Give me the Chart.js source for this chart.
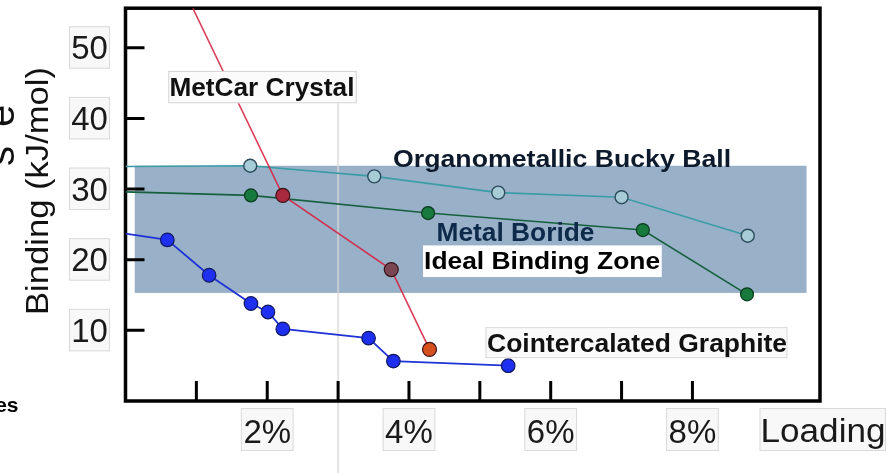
<!DOCTYPE html>
<html lang="en">
<head>
    <meta charset="UTF-8">
    <title>Binding vs Loading</title>
    <script src="https://cdn.jsdelivr.net/npm/chart.js"></script>
    <style>
        html, body { margin: 0; padding: 0; background: #fff; }
        #chart { display: block; }
    </style>
</head>
<body>
    <canvas id="chart" width="891" height="473"></canvas>
    <script>
        // values (x = loading %, y = kJ/mol)
        const graphiteX = [0, 0.59, 1.18, 1.77, 2.01, 2.22, 3.43, 3.78, 5.40];
        const graphiteY = [23.7, 22.8, 17.8, 13.8, 12.6, 10.2, 8.9, 5.65, 5.0];
        const metcarX = [0.95, 2.22, 3.75, 4.29];
        const metcarY = [55.6, 29.1, 18.6, 7.3];
        const buckyX = [0, 1.76, 3.51, 5.26, 7.0, 8.78];
        const buckyY = [33.2, 33.3, 31.8, 29.5, 28.85, 23.4];
        const borideX = [0, 1.77, 4.27, 7.30, 8.77];
        const borideY = [29.6, 29.1, 26.6, 24.2, 15.1];

        const zoneX = [0.13, 9.61];
        const zoneY = [15.3, 33.3];
        const markerX = 3;

        const yTicks = [10, 20, 30, 40, 50];
        const xTicks = [1, 2, 3, 4, 5, 6, 7, 8];
        const xTickLabels = { 2: '2%', 4: '4%', 6: '6%', 8: '8%' };
        const xAxisLabel = 'Loading';
        const yAxisTitle = 'Binding (kJ/mol)';

        const toPoints = (xs, ys) => xs.map((x, i) => ({ x, y: ys[i] }));

        // stretch text along its direction to a given width
        function fitText(ctx, str, x, y, w, font, color) {
            ctx.save();
            ctx.font = font;
            ctx.fillStyle = color;
            ctx.textAlign = 'left';
            ctx.textBaseline = 'alphabetic';
            const m = ctx.measureText(str).width;
            ctx.translate(x, y);
            ctx.scale(w / m, 1);
            ctx.fillText(str, 0, 0);
            ctx.restore();
        }

        function box(ctx, x0, y0, x1, y1, fill, stroke) {
            ctx.save();
            ctx.fillStyle = fill;
            ctx.fillRect(x0, y0, x1 - x0, y1 - y0);
            if (stroke) {
                ctx.strokeStyle = stroke;
                ctx.lineWidth = 1;
                ctx.strokeRect(x0 + 0.5, y0 + 0.5, x1 - x0 - 1, y1 - y0 - 1);
            }
            ctx.restore();
        }

        const labels = [
            { text: 'MetCar Crystal', x: 0.62, y: 43.18, w: 185, font: 'bold 25px "Liberation Sans", Arial', color: '#111',
              pad: [1.2, 2.4, 25, 7.3], fill: '#fbfbfb', stroke: '#d4d4d4' },
            { text: 'Organometallic Bucky Ball', x: 3.776, y: 33.07, w: 338, font: 'bold 24px "Liberation Sans", Arial', color: '#0c1a2c' },
            { text: 'Metal Boride', x: 4.388, y: 22.58, w: 158, font: 'bold 25px "Liberation Sans", Arial', color: '#0e2a4a' },
            { text: 'Ideal Binding Zone', x: 4.213, y: 18.73, w: 236, font: 'bold 24.5px "Liberation Sans", Arial', color: '#000',
              pad: [1, 1.7, 23.3, 8.4], fill: '#ffffff' },
            { text: 'Cointercalated Graphite', x: 5.102, y: 6.96, w: 300, font: 'bold 25.5px "Liberation Sans", Arial', color: '#111',
              pad: [1.6, 0.4, 24.7, 6.3], fill: '#fafafa', stroke: '#d8d8d8' }
        ];

        const decor = {
            id: 'decor',
            beforeDatasetsDraw(chart) {
                const ctx = chart.ctx;
                const xs = chart.scales.x, ys = chart.scales.y;
                const a = chart.chartArea;

                // ideal binding zone
                ctx.save();
                ctx.fillStyle = '#98b0c8';
                const zx0 = xs.getPixelForValue(zoneX[0]), zx1 = xs.getPixelForValue(zoneX[1]);
                const zy0 = ys.getPixelForValue(zoneY[1]), zy1 = ys.getPixelForValue(zoneY[0]);
                ctx.fillRect(zx0, zy0, zx1 - zx0, zy1 - zy0);
                ctx.restore();

                // vertical marker line (under the frame)
                ctx.save();
                ctx.strokeStyle = 'rgba(215,215,215,0.7)';
                ctx.lineWidth = 2;
                const mx = xs.getPixelForValue(markerX);
                ctx.beginPath();
                ctx.moveTo(mx, 102.5);
                ctx.lineTo(mx, chart.height);
                ctx.stroke();
                ctx.restore();

                // frame
                ctx.save();
                ctx.strokeStyle = '#000';
                ctx.lineWidth = 3.5;
                ctx.strokeRect(a.left, a.top, a.right - a.left, a.bottom - a.top);

                // inward tick marks
                ctx.lineWidth = 3;
                ctx.beginPath();
                yTicks.forEach(v => {
                    const p = ys.getPixelForValue(v);
                    ctx.moveTo(a.left, p);
                    ctx.lineTo(a.left + 19, p);
                });
                xTicks.forEach(v => {
                    const p = xs.getPixelForValue(v);
                    ctx.moveTo(p, a.bottom);
                    ctx.lineTo(p, a.bottom - 20);
                });
                ctx.stroke();
                ctx.restore();

                // tick labels with faint boxes
                const tickFont = '33px "Liberation Sans", Arial';
                ctx.save();
                ctx.font = tickFont;
                yTicks.forEach(v => {
                    const p = ys.getPixelForValue(v);
                    box(ctx, 69, p - 21.5, 110, p + 21, '#f8f8f8', '#dadada');
                    ctx.fillStyle = '#1a1a1a';
                    ctx.textAlign = 'center';
                    ctx.textBaseline = 'alphabetic';
                    ctx.fillText(String(v), 89.5, p + 11.7);
                });
                xTicks.forEach(v => {
                    if (!xTickLabels[v]) return;
                    const p = xs.getPixelForValue(v);
                    const w = ctx.measureText(xTickLabels[v]).width;
                    box(ctx, p - w / 2 - 2.5, 408, p + w / 2 + 2.5, 451, '#f8f8f8', '#dadada');
                    ctx.fillStyle = '#1a1a1a';
                    ctx.textAlign = 'center';
                    ctx.fillText(xTickLabels[v], p, 443);
                });
                box(ctx, 759.5, 408, 886, 451, '#f8f8f8', '#dadada');
                ctx.restore();
                fitText(ctx, xAxisLabel, 760.5, 442, 125, tickFont, '#1a1a1a');

                // rotated axis title
                ctx.save();
                ctx.translate(48, 315);
                ctx.rotate(-Math.PI / 2);
                fitText(ctx, yAxisTitle, 0, 0, 248, '32px "Liberation Sans", Arial', '#111');
                ctx.restore();

                // cut-off text at the left edge
                ctx.save();
                ctx.font = '40px "Liberation Sans", Arial';
                ctx.fillStyle = '#111';
                ctx.textAlign = 'center';
                ctx.textBaseline = 'alphabetic';
                ctx.translate(14, 0);
                ctx.rotate(-Math.PI / 2);
                ctx.fillText('e', -116, 0);
                ctx.fillText('s', -156, 0);
                ctx.restore();
                ctx.save();
                ctx.font = 'bold 21px "Liberation Sans", Arial';
                ctx.fillStyle = '#000';
                ctx.textAlign = 'right';
                ctx.fillText('es', 18.5, 411.7);
                ctx.restore();
            },
            afterDatasetsDraw(chart) {
                const ctx = chart.ctx;
                const xs = chart.scales.x, ys = chart.scales.y;
                labels.forEach(l => {
                    const px = xs.getPixelForValue(l.x);
                    const py = ys.getPixelForValue(l.y);
                    if (l.pad) {
                        box(ctx, px - l.pad[0], py - l.pad[2], px + l.w + l.pad[1], py + l.pad[3], l.fill, l.stroke);
                    }
                    fitText(ctx, l.text, px, py, l.w, l.font, l.color);
                });
            }
        };

        new Chart(document.getElementById('chart').getContext('2d'), {
            type: 'scatter',
            data: {
                datasets: [
                    {
                        label: 'MetCar Crystal',
                        data: toPoints(metcarX, metcarY),
                        showLine: true,
                        borderColor: 'rgba(214,32,62,0.85)',
                        borderWidth: 1.6,
                        pointRadius: [0, 7, 7, 7],
                        pointBackgroundColor: ['#000', '#a8283e', '#7a4654', '#d5501c'],
                        pointBorderColor: '#3a1218',
                        pointBorderWidth: 1.2
                    },
                    {
                        label: 'Cointercalated Graphite',
                        data: toPoints(graphiteX, graphiteY),
                        showLine: true,
                        borderColor: '#1f33d6',
                        borderWidth: 1.8,
                        pointRadius: [0, 6.8, 6.8, 6.8, 6.8, 6.8, 6.8, 6.8, 6.8],
                        pointBackgroundColor: '#1e2ff0',
                        pointBorderColor: '#101860',
                        pointBorderWidth: 1.2
                    },
                    {
                        label: 'Organometallic Bucky Ball',
                        data: toPoints(buckyX, buckyY),
                        showLine: true,
                        borderColor: '#3b9ca6',
                        borderWidth: 1.6,
                        pointRadius: [0, 6.5, 6.5, 6.5, 6.5, 6.5],
                        pointBackgroundColor: '#a8cbd8',
                        pointBorderColor: '#2c4c5c',
                        pointBorderWidth: 1.4
                    },
                    {
                        label: 'Metal Boride',
                        data: toPoints(borideX, borideY),
                        showLine: true,
                        borderColor: '#17603e',
                        borderWidth: 1.6,
                        pointRadius: [0, 6.5, 6.5, 6.5, 6.5],
                        pointBackgroundColor: '#17793b',
                        pointBorderColor: '#0b3a20',
                        pointBorderWidth: 1.2
                    }
                ]
            },
            options: {
                responsive: false,
                animation: false,
                devicePixelRatio: 1,
                layout: { padding: { left: 125.5, right: 71, top: 7, bottom: 72 } },
                scales: {
                    x: { type: 'linear', min: 0, max: 9.8, display: false },
                    y: { type: 'linear', min: 0, max: 55.6, display: false }
                },
                plugins: {
                    legend: { display: false },
                    tooltip: { enabled: false }
                }
            },
            plugins: [decor]
        });
    </script>
</body>
</html>
